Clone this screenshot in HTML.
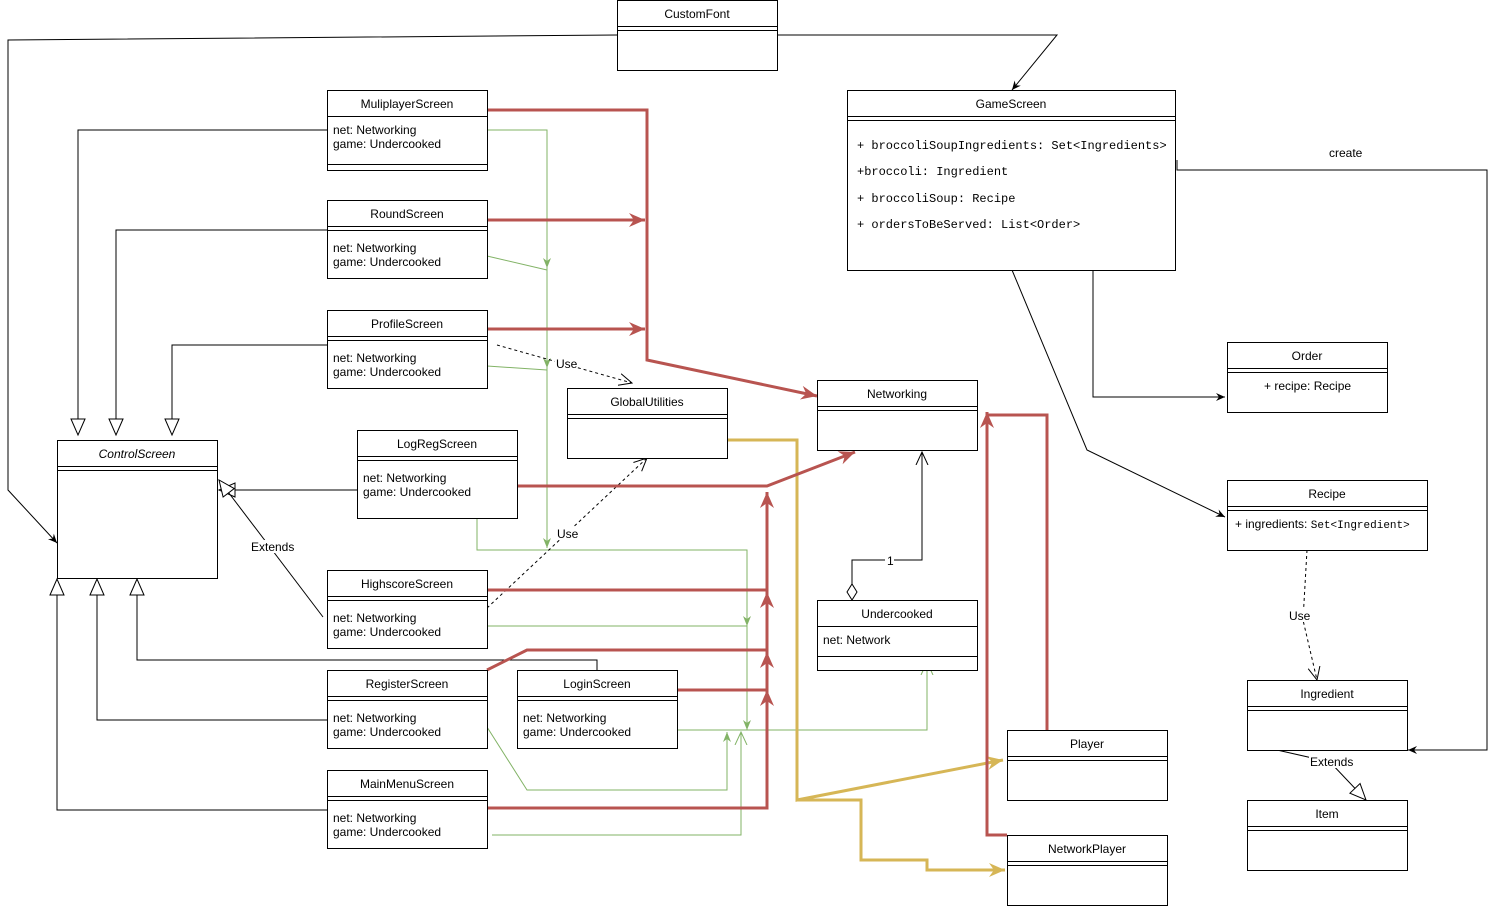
<!DOCTYPE html>
<html><head><meta charset="utf-8"><style>
html,body{margin:0;padding:0;background:#fff}
svg{display:block}
text{font-family:"Liberation Sans",sans-serif;font-size:12px;fill:#000}
.m{font-family:"Liberation Mono",monospace;font-size:11px}
.g{font-family:"Liberation Mono",monospace;font-size:12px}
</style></head><body>
<svg width="1496" height="906" viewBox="0 0 1496 906" xmlns="http://www.w3.org/2000/svg">
<defs>
<marker id="bk" markerWidth="10" markerHeight="10" refX="9" refY="5" orient="auto" markerUnits="userSpaceOnUse"><path d="M0,1 L9,5 L0,9 L3,5 Z" fill="#000"/></marker>
<marker id="op" markerWidth="14" markerHeight="14" refX="13" refY="7" orient="auto" markerUnits="userSpaceOnUse"><path d="M0,1 L13,7 L0,13" fill="none" stroke="#000"/></marker>
<marker id="tri" markerWidth="20" markerHeight="20" refX="17" refY="8" orient="auto" markerUnits="userSpaceOnUse"><path d="M1,1 L17,8 L1,15 Z" fill="#fff" stroke="#000"/></marker>
<marker id="rd" markerWidth="20" markerHeight="20" refX="16" refY="8" orient="auto" markerUnits="userSpaceOnUse"><path d="M0,1 L16,8 L0,15 L5,8 Z" fill="#b85450"/></marker>
<marker id="yl" markerWidth="20" markerHeight="20" refX="16" refY="8" orient="auto" markerUnits="userSpaceOnUse"><path d="M0,1 L16,8 L0,15 L5,8 Z" fill="#d6b656"/></marker>
<marker id="gr" markerWidth="12" markerHeight="12" refX="10" refY="5" orient="auto" markerUnits="userSpaceOnUse"><path d="M0,1 L10,5 L0,9 L3,5 Z" fill="#82b366"/></marker>
<marker id="gop" markerWidth="14" markerHeight="14" refX="13" refY="7" orient="auto" markerUnits="userSpaceOnUse"><path d="M0,1 L13,7 L0,13" fill="none" stroke="#82b366"/></marker>
</defs>

<g fill="none" stroke="#82b366" stroke-width="1">
<path d="M487,130 H547 V268" marker-end="url(#gr)"/>
<path d="M547,268 V368" marker-end="url(#gr)"/>
<path d="M547,368 V548" marker-end="url(#gr)"/>
<path d="M487,256 L547,270"/>
<path d="M487,366 L547,370"/>
<path d="M477,518 V550 H747 V626" marker-end="url(#gr)"/>
<path d="M747,626 V730" marker-end="url(#gr)"/>
<path d="M487,626 H747"/>
<path d="M677,730 H927 V662" marker-end="url(#gop)"/>
<path d="M487,727 L527,790 H727 V732" marker-end="url(#gr)"/>
<path d="M492,835 H741 V732" marker-end="url(#gop)"/>
</g>

<g fill="none" stroke="#000" stroke-width="1">
<path d="M617,35 L8,40 V490 L57,543" marker-end="url(#bk)"/>
<path d="M777,35 H1057 L1012,90" marker-end="url(#bk)"/>
<path d="M1177,160 V170 H1487 V750 H1408" marker-end="url(#bk)"/>
<path d="M1093,270 V397 H1225" marker-end="url(#bk)"/>
<path d="M1012,270 L1087,450 L1225,517" marker-end="url(#bk)"/>
<path d="M1307,550 L1303,620 L1317,680" stroke-dasharray="3,3" marker-end="url(#op)"/>
<path d="M1277,750 L1330,762 L1366,800" marker-end="url(#tri)"/>
<path d="M852,585 V560 H922 V452" marker-end="url(#op)"/>
<path d="M327,130 H78 V435" marker-end="url(#tri)"/>
<path d="M327,230 H116 V435" marker-end="url(#tri)"/>
<path d="M327,345 H172 V435" marker-end="url(#tri)"/>
<path d="M357,490 H219" marker-end="url(#tri)"/>
<path d="M323,617 L219,480" marker-end="url(#tri)"/>
<path d="M597,670 V660 H137 V579" marker-end="url(#tri)"/>
<path d="M327,720 H97 V579" marker-end="url(#tri)"/>
<path d="M327,810 H57 V579" marker-end="url(#tri)"/>
<path d="M497,345 L632,383" stroke-dasharray="3,3" marker-end="url(#op)"/>
<path d="M487,608 L647,458" stroke-dasharray="3,3" marker-end="url(#op)"/>
</g>
<path d="M852,600 L847,592 L852,584 L857,592 Z" fill="#fff" stroke="#000"/>

<g fill="none" stroke="#d6b656" stroke-width="3">
<path d="M727,440 H797 V800 L1003,760" marker-end="url(#yl)"/>
<path d="M797,800 H861 V860 H927 V870 H1005" marker-end="url(#yl)"/>
</g>

<g fill="none" stroke="#b85450" stroke-width="3">
<path d="M487,110 H647 V360 L817,396" marker-end="url(#rd)"/>
<path d="M487,220 H645" marker-end="url(#rd)"/>
<path d="M487,329 H645" marker-end="url(#rd)"/>
<path d="M517,486 H767 L855,452" marker-end="url(#rd)"/>
<path d="M487,808 H767 V690" marker-end="url(#rd)"/>
<path d="M767,690 V652" marker-end="url(#rd)"/>
<path d="M767,652 V592" marker-end="url(#rd)"/>
<path d="M767,592 V492" marker-end="url(#rd)"/>
<path d="M487,590 H767"/>
<path d="M487,670 L527,650 H767"/>
<path d="M677,690 H767"/>
<path d="M1047,730 V415 H987"/>
<path d="M1007,835 H987 V412" marker-end="url(#rd)"/>
</g>

<g>
<rect x="555" y="357" width="22" height="13" fill="#fff"/><text x="556" y="368" font-size="11">Use</text>
<rect x="556" y="527" width="22" height="13" fill="#fff"/><text x="557" y="538" font-size="11">Use</text>
<rect x="250" y="540" width="42" height="13" fill="#fff"/><text x="251" y="551" font-size="11">Extends</text>
<rect x="1288" y="609" width="22" height="13" fill="#fff"/><text x="1289" y="620" font-size="11">Use</text>
<rect x="1309" y="755" width="42" height="13" fill="#fff"/><text x="1310" y="766" font-size="11">Extends</text>
<text x="1329" y="157" font-size="11">create</text>
<rect x="885" y="555" width="9" height="12" fill="#fff"/><text x="887" y="565" font-size="11">1</text>
</g>

<g fill="#fff" stroke="#000" stroke-width="1">
<rect x="617.5" y="0.5" width="160" height="70"/>
<rect x="847.5" y="90.5" width="328" height="180"/>
<rect x="327.5" y="90.5" width="160" height="80"/>
<rect x="327.5" y="200.5" width="160" height="78"/>
<rect x="327.5" y="310.5" width="160" height="78"/>
<rect x="357.5" y="430.5" width="160" height="88"/>
<rect x="57.5" y="440.5" width="160" height="138"/>
<rect x="327.5" y="570.5" width="160" height="78"/>
<rect x="327.5" y="670.5" width="160" height="78"/>
<rect x="517.5" y="670.5" width="160" height="78"/>
<rect x="327.5" y="770.5" width="160" height="78"/>
<rect x="567.5" y="388.5" width="160" height="70"/>
<rect x="817.5" y="380.5" width="160" height="70"/>
<rect x="817.5" y="600.5" width="160" height="70"/>
<rect x="1227.5" y="342.5" width="160" height="70"/>
<rect x="1227.5" y="480.5" width="200" height="70"/>
<rect x="1247.5" y="680.5" width="160" height="70"/>
<rect x="1247.5" y="800.5" width="160" height="70"/>
<rect x="1007.5" y="730.5" width="160" height="70"/>
<rect x="1007.5" y="835.5" width="160" height="70"/>
</g>
<g stroke="#000" stroke-width="1">
<path d="M617,26.5H777M617,30.5H777"/>
<path d="M847,116.5H1175M847,120.5H1175"/>
<path d="M327,116.5H487M327,164.5H487"/>
<path d="M327,226.5H487M327,230.5H487"/>
<path d="M327,336.5H487M327,340.5H487"/>
<path d="M357,456.5H517M357,460.5H517"/>
<path d="M57,466.5H217M57,470.5H217"/>
<path d="M327,596.5H487M327,600.5H487"/>
<path d="M327,696.5H487M327,700.5H487"/>
<path d="M517,696.5H677M517,700.5H677"/>
<path d="M327,796.5H487M327,800.5H487"/>
<path d="M567,414.5H727M567,418.5H727"/>
<path d="M817,406.5H977M817,410.5H977"/>
<path d="M817,626.5H977M817,656.5H977"/>
<path d="M1227,368.5H1387M1227,372.5H1387"/>
<path d="M1227,506.5H1427M1227,510.5H1427"/>
<path d="M1247,706.5H1407M1247,710.5H1407"/>
<path d="M1247,826.5H1407M1247,830.5H1407"/>
<path d="M1007,756.5H1167M1007,760.5H1167"/>
<path d="M1007,861.5H1167M1007,865.5H1167"/>
</g>
<g text-anchor="middle">
<text x="697" y="18">CustomFont</text>
<text x="1011" y="108">GameScreen</text>
<text x="407" y="108">MuliplayerScreen</text>
<text x="407" y="218">RoundScreen</text>
<text x="407" y="328">ProfileScreen</text>
<text x="437" y="448">LogRegScreen</text>
<text x="137" y="458" font-style="italic">ControlScreen</text>
<text x="407" y="588">HighscoreScreen</text>
<text x="407" y="688">RegisterScreen</text>
<text x="597" y="688">LoginScreen</text>
<text x="407" y="788">MainMenuScreen</text>
<text x="647" y="406">GlobalUtilities</text>
<text x="897" y="398">Networking</text>
<text x="897" y="618">Undercooked</text>
<text x="1307" y="360">Order</text>
<text x="1327" y="498">Recipe</text>
<text x="1327" y="698">Ingredient</text>
<text x="1327" y="818">Item</text>
<text x="1087" y="748">Player</text>
<text x="1087" y="853">NetworkPlayer</text>
</g>
<g>
<text x="333" y="134">net: Networking</text><text x="333" y="148">game: Undercooked</text>
<text x="333" y="252">net: Networking</text><text x="333" y="266">game: Undercooked</text>
<text x="333" y="362">net: Networking</text><text x="333" y="376">game: Undercooked</text>
<text x="363" y="482">net: Networking</text><text x="363" y="496">game: Undercooked</text>
<text x="333" y="622">net: Networking</text><text x="333" y="636">game: Undercooked</text>
<text x="333" y="722">net: Networking</text><text x="333" y="736">game: Undercooked</text>
<text x="523" y="722">net: Networking</text><text x="523" y="736">game: Undercooked</text>
<text x="333" y="822">net: Networking</text><text x="333" y="836">game: Undercooked</text>
<text x="823" y="644">net: Network</text>
<text x="1264" y="390">+ recipe: Recipe</text>
<text x="1235" y="528">+ ingredients: <tspan class="m">Set&lt;Ingredient&gt;</tspan></text>
<text class="g" x="857" y="149">+ broccoliSoupIngredients: Set&lt;Ingredients&gt;</text>
<text class="g" x="857" y="175">+broccoli: Ingredient</text>
<text class="g" x="857" y="202">+ broccoliSoup: Recipe</text>
<text class="g" x="857" y="228">+ ordersToBeServed: List&lt;Order&gt;</text>
</g>
</svg>
</body></html>
